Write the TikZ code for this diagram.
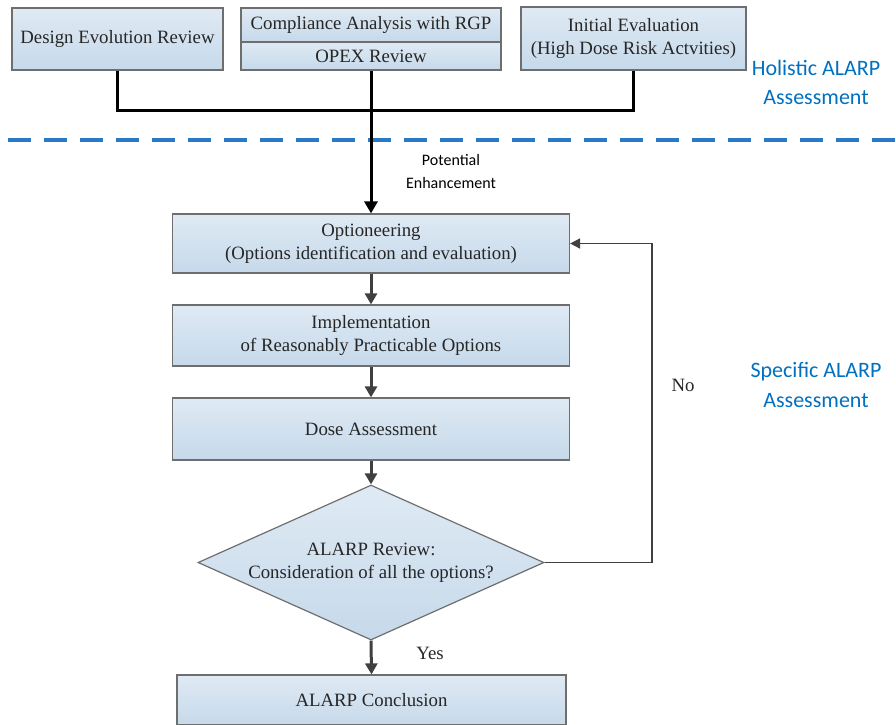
\documentclass[tikz,border=0pt]{standalone}
\usepackage{fontspec}
\setmainfont{Liberation Serif}
\newfontfamily\calibri{Carlito}
\usetikzlibrary{arrows.meta,shapes.geometric}
\definecolor{boxtop}{HTML}{DFEAF4}
\definecolor{boxbot}{HTML}{C6D9EA}
\definecolor{boxline}{HTML}{6E6E6E}
\definecolor{holblue}{HTML}{0070C0}
\definecolor{dashblue}{HTML}{2A78C8}
\definecolor{arrowgray}{HTML}{404040}
\definecolor{txtgray}{HTML}{262626}
\begin{document}
\begin{tikzpicture}[x=1pt,y=-1pt,
  stepbox/.style={draw=boxline, line width=1.2pt, top color=boxtop, bottom color=boxbot,
    text=txtgray, font=\fontsize{18.8}{23}\selectfont, align=center, inner sep=0pt},
  sidelabel/.style={text=holblue, font=\calibri\fontsize{22}{29.5}\selectfont, align=center},
  flowarrow/.style={draw=arrowgray, line width=3pt, -{Triangle[length=11pt,width=12pt]}},
  joinline/.style={draw=black, line width=3pt},
  plainlabel/.style={text=txtgray, font=\fontsize{18.8}{22}\selectfont}]
\clip (0,0) rectangle (896,724);
\useasboundingbox (0,0) rectangle (896,724);

% dashed separator
\coordinate (dl) at (8,140);
\coordinate (dr) at (900,140);
\draw[dashblue, line width=3.5pt, dash pattern=on 23pt off 13pt] (dl) -- (dr);

% top boxes
\node[stepbox, minimum width=211pt, minimum height=62pt] (der) at (117.5,39) {Design Evolution Review};
\node[stepbox, minimum width=260pt, minimum height=34pt] (cmp) at (371,25) {Compliance Analysis with RGP};
\node[stepbox, minimum width=260pt, minimum height=28pt] (opex) at (371,56) {OPEX Review};
\node[stepbox, minimum width=225pt, minimum height=63pt] (ini) at (633.5,38.5) {Initial Evaluation\\(High Dose Risk Actvities)};

% flow boxes
\node[stepbox, minimum width=397pt, minimum height=59pt] (opt) at (371,243.5) {Optioneering\\(Options identification and evaluation)};
\node[stepbox, minimum width=397pt, minimum height=61pt] (imp) at (371,335.5) {Implementation\\of Reasonably Practicable Options};
\node[stepbox, minimum width=397pt, minimum height=62pt] (dose) at (371,429) {Dose Assessment};
\node[stepbox, shape=diamond, minimum width=346pt, minimum height=155pt] (dia) at (371,562.5) {};
\node[text=txtgray, font=\fontsize{18.8}{23}\selectfont, align=center, inner sep=0pt] (diatext) at (dia.center) {ALARP Review:\\Consideration of all the options?};
\node[stepbox, minimum width=389pt, minimum height=50pt] (concl) at (371.5,700) {ALARP Conclusion};

% join lines
\draw[joinline] (der.south) -- ++(0,40) -| (ini.south);
\draw[joinline, -{Triangle[length=12pt,width=13pt]}] (opex.south) -- (opt.north);

% flow arrows
\draw[flowarrow] (opt.south) -- (imp.north);
\draw[flowarrow] (imp.south) -- (dose.north);
\draw[flowarrow] (dose.south) -- (dia.north);
\draw[flowarrow] (dia.south) -- (concl.north);

% feedback
\coordinate (fb) at (652,400);
\draw[draw=arrowgray, line width=1.8pt, -{Triangle[length=10pt,width=10pt]}] (dia.east) -| (fb) |- (opt.east);

% labels
\node[plainlabel] (no) at (683,385) {No};
\node[plainlabel] (yes) at (430,653) {Yes};
\node[font=\calibri\fontsize{16}{23}\selectfont, align=center, text=black] (pe) at (451,171.5) {Potential\\Enhancement};
\node[sidelabel] (hol) at (816,82.5) {Holistic ALARP\\Assessment};
\node[sidelabel] (spe) at (816,385) {Specific ALARP\\Assessment};
\end{tikzpicture}
\end{document}
